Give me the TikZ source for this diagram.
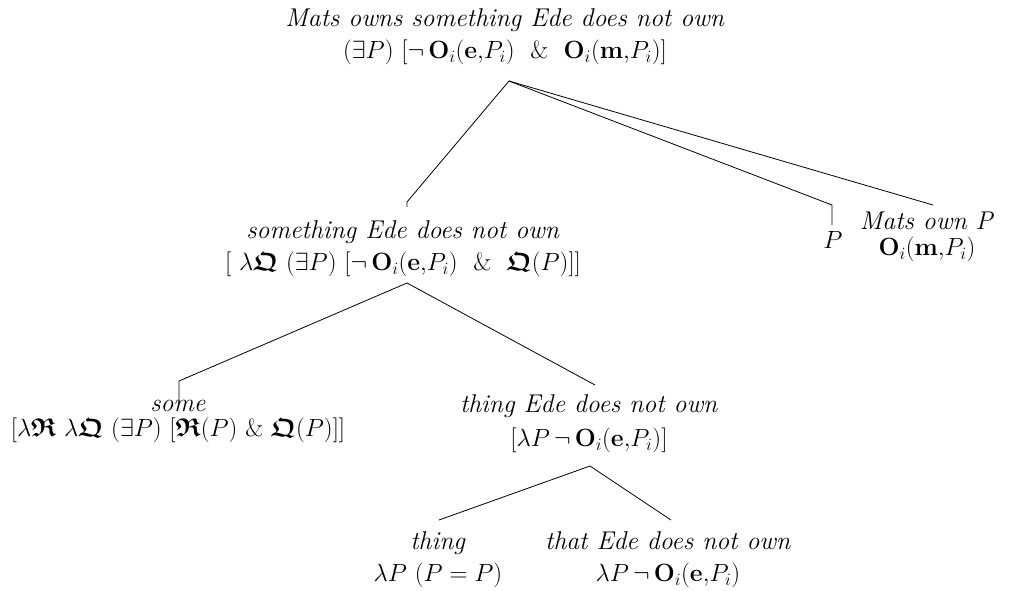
\documentclass[tikz,border=0pt]{standalone}
\usepackage{amsmath,amssymb}
\newcommand{\fQ}{\boldsymbol{\mathfrak{Q}}}
\newcommand{\fR}{\boldsymbol{\mathfrak{R}}}
\begin{document}
\begin{tikzpicture}[x=1pt,y=-1pt,
  lbl/.style={align=center,inner sep=0pt,font=\fontsize{25.7}{32}\selectfont},
  edge/.style={line width=0.8pt,line join=miter}]
\useasboundingbox (0,0) rectangle (1009,590);
\node[lbl] (root) at (505,37) {\textit{Mats owns something Ede does not own}\\ $(\exists P)\ [\neg\,\mathbf{O}_i(\mathbf{e}{,}P_i)\ \ \&\ \ \mathbf{O}_i(\mathbf{m}{,}P_i)]$};
\node[lbl] (smth) at (403,249) {\textit{something Ede does not own}\\ $[\ \lambda\fQ\ (\exists P)\ [\neg\,\mathbf{O}_i(\mathbf{e}{,}P_i)\ \ \&\ \ \fQ(P)]]$};
\node[lbl] (pp) at (833,240) {$P$};
\node[lbl] (mats) at (927,237) {\textit{Mats own P}\\[-6pt] $\mathbf{O}_i(\mathbf{m}{,}P_i)$};
\node[lbl] (some) at (178,421) {\textit{some}\\[-7pt] $[\lambda\fR\ \lambda\fQ\ (\exists P)\ [\fR(P)\ \&\ \fQ(P)]]$};
\node[lbl] (ted) at (589,424) {\textit{thing Ede does not own}\\[2pt] $[\lambda P\,\neg\,\mathbf{O}_i(\mathbf{e}{,}P_i)]$};
\node[lbl] (thing) at (438,560) {\textit{thing}\\ $\lambda P\ (P = P)$};
\node[lbl] (that) at (668,560) {\textit{that Ede does not own}\\ $\lambda P\,\neg\,\mathbf{O}_i(\mathbf{e}{,}P_i)$};
% connector points
\coordinate (rootA) at (509,81);
\coordinate (smthT) at (407,202);
\coordinate (smthB) at (407,207);
\coordinate (ppT) at (832,205);
\coordinate (ppB) at (832,225);
\coordinate (matsT) at (933,205);
\coordinate (smthA) at (407,283);
\coordinate (someT) at (179,381);
\coordinate (someB) at (179,403);
\coordinate (tedT) at (595,385);
\coordinate (tedA) at (590,466);
\coordinate (thingT) at (439,520);
\coordinate (thatT) at (671,520);
\draw[edge] (rootA) -- (smthT) -- (smthB);
\draw[edge] (rootA) -- (ppT) -- (ppB);
\draw[edge] (rootA) -- (matsT);
\draw[edge] (smthA) -- (someT) -- (someB);
\draw[edge] (smthA) -- (tedT);
\draw[edge] (tedA) -- (thingT);
\draw[edge] (tedA) -- (thatT);
\end{tikzpicture}
\end{document}
